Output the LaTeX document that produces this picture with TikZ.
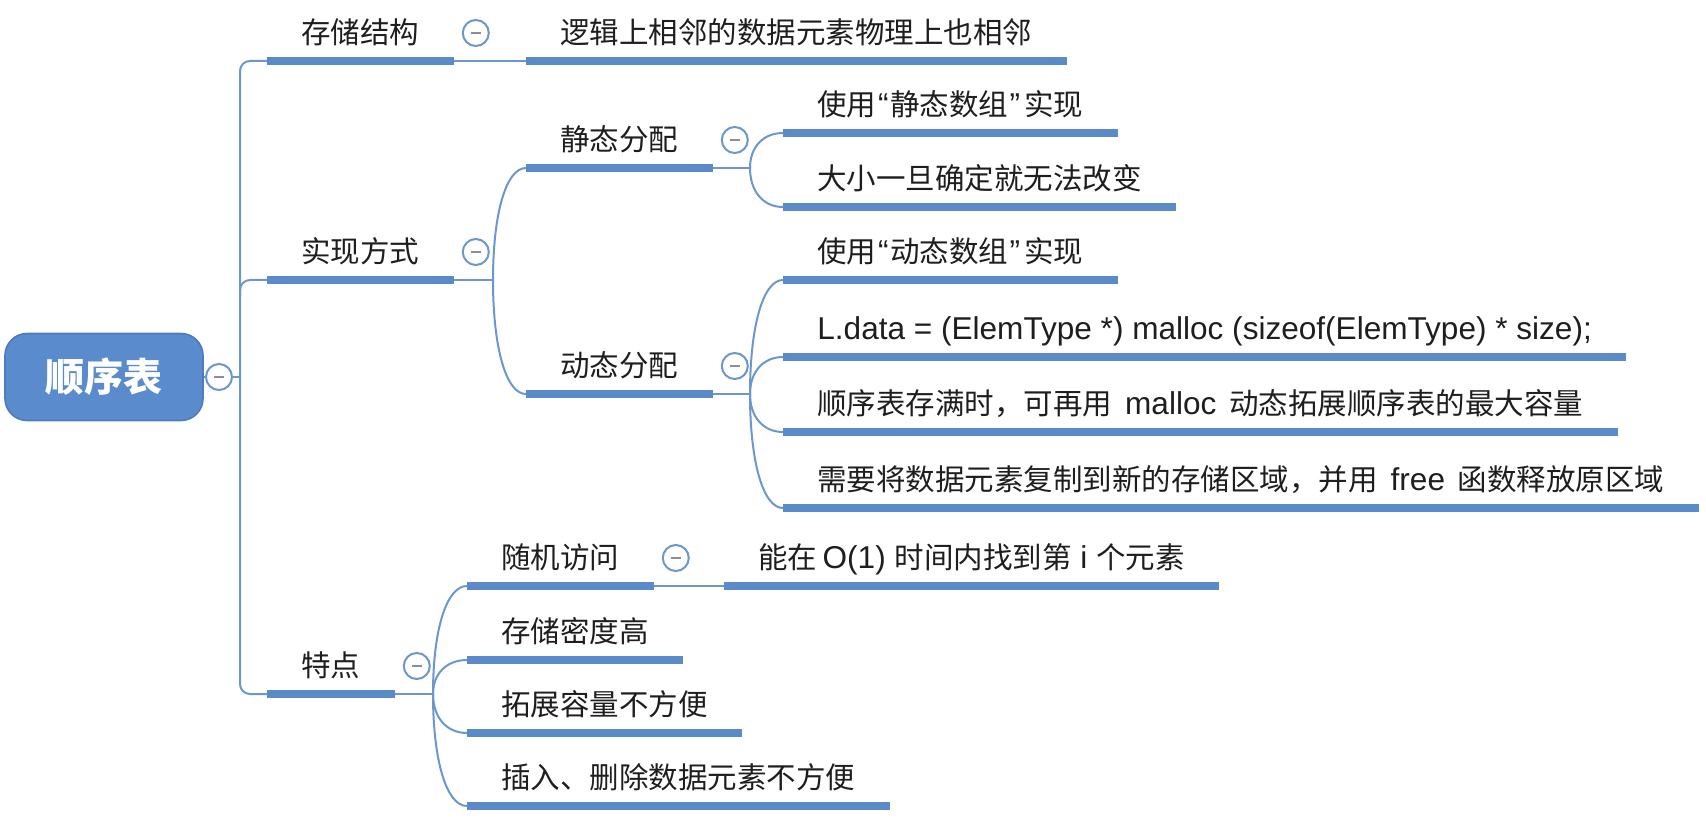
\documentclass[tikz,border=0pt]{standalone}
\usepackage{fontspec}
\setmainfont{Noto Sans CJK SC}
\newfontfamily\lat{Liberation Sans}[Scale=1.07]
\usetikzlibrary{calc}
\definecolor{mmblue}{HTML}{5B8AC9}
\definecolor{mmline}{HTML}{6B96CE}
\definecolor{rootfill}{HTML}{5A8CCD}
\definecolor{rootedge}{HTML}{4C7CBD}
\definecolor{txt}{HTML}{1E1E1E}
\definecolor{minuscol}{HTML}{8C8CA0}
\newcommand\mmcurve[2]{\draw[conn] (#1) .. controls ($(#1)!0.6!(#1|-#2)$) and ($(#2)!0.6!(#1|-#2)$) .. (#2);}
\newcommand\quoted[3]{\makebox[133pt][l]{#1{\lat\kern0.8pt“\kern0.8pt}#2{\lat\kern0.8pt”}\hfill #3}}
\begin{document}
\begin{tikzpicture}[x=0.5pt,y=-0.5pt,
  topic/.style={anchor=south west, inner xsep=17pt, inner ysep=5.5pt, text height=11pt, text depth=3pt, font=\fontsize{14.75pt}{16pt}\selectfont, text=txt},
  uline/.style={draw=mmblue, line width=3.6pt},
  conn/.style={draw=mmline, line width=1pt},
  fold/.style={circle, draw=mmline, line width=1pt, fill=white, minimum size=13pt, inner sep=0pt,
    path picture={\draw[minuscol, line width=1.1pt] ($(path picture bounding box.center)+(-5,0)$) -- ($(path picture bounding box.center)+(5,0)$);}},
  rootbox/.style={rectangle, rounded corners=11pt, fill=rootfill, draw=rootedge, line width=0.8pt, minimum width=99pt, minimum height=43.5pt, text=white, font=\fontsize{19.5pt}{22pt}\selectfont\bfseries}
]
\useasboundingbox (0,0) rectangle (1706,823);

% root
\node[rootbox] (root) at (104,377) {顺序表};
\node[fold] (f0) at (219,377) {};
\coordinate (trunk) at (240,377);

% level 1
\node[topic] (n1) at (267,61) {存储结构};
\node[topic] (n2) at (267,280) {实现方式};
\node[topic] (n3) at (267,694) {特点};

% level 2+
\node[topic] (n11) at (526,61) {逻辑上相邻的数据元素物理上也相邻};
\node[topic] (n21) at (526,168) {静态分配};
\node[topic] (n22) at (526,394) {动态分配};
\node[topic] (n211) at (783,133) {\quoted{使用}{静态数组}{实现}};
\node[topic] (n212) at (783,207) {大小一旦确定就无法改变};
\node[topic] (n221) at (783,280) {\quoted{使用}{动态数组}{实现}};
\node[topic] (n222) at (783,357) {\lat L.data = (ElemType *) malloc (sizeof(ElemType) * size);};
\node[topic] (n223) at (783,432) {顺序表存满时，可再用{\lat\hspace{2pt}\ malloc \hspace{2pt}}动态拓展顺序表的最大容量};
\node[topic] (n224) at (783,508) {需要将数据元素复制到新的存储区域，并用{\lat\hspace{2pt}\ free \hspace{2pt}}函数释放原区域};
\node[topic] (n31) at (467,586) {随机访问};
\node[topic] (n32) at (467,660) {存储密度高};
\node[topic] (n33) at (467,733) {拓展容量不方便};
\node[topic] (n34) at (467,806) {插入、删除数据元素不方便};
\node[topic] (n311) at (724,586) {能在{\lat\,O(1) }时间内找到第{\lat\ i }个元素};

% underlines
\foreach \n in {n1,n2,n3,n11,n21,n22,n211,n212,n221,n222,n223,n224,n31,n32,n33,n34,n311}
  \draw[uline] (\n.south west) -- (\n.south east);

% connectors
\draw[conn] (root.east) -- (f0.west);
\draw[conn] (f0.east) -- (trunk);
\draw[conn, rounded corners=5pt] (n1.south west) -| (trunk) |- (n3.south west);
\draw[conn, rounded corners=5pt] ($(trunk |- n2.south west)+(0,16)$) |- (n2.south west);
\draw[conn] (n1.south east) -- (n11.south west);

\coordinate (b2) at (493,280);
\draw[conn] (n2.south east) -- (b2);
\mmcurve{b2}{n21.south west}
\mmcurve{b2}{n22.south west}

\coordinate (b21) at (750,168);
\draw[conn] (n21.south east) -- (b21);
\mmcurve{b21}{n211.south west}
\mmcurve{b21}{n212.south west}

\coordinate (b22) at (750,394);
\draw[conn] (n22.south east) -- (b22);
\mmcurve{b22}{n221.south west}
\mmcurve{b22}{n222.south west}
\mmcurve{b22}{n223.south west}
\mmcurve{b22}{n224.south west}

\coordinate (b3) at (433,694);
\draw[conn] (n3.south east) -- (b3);
\mmcurve{b3}{n31.south west}
\mmcurve{b3}{n32.south west}
\mmcurve{b3}{n33.south west}
\mmcurve{b3}{n34.south west}

\draw[conn] (n31.south east) -- (n311.south west);

% fold markers
\node[fold] (f1) at ($(n1.south east)+(22,-28)$) {};
\node[fold] (f2) at ($(n2.south east)+(22,-28)$) {};
\node[fold] (f3) at ($(n3.south east)+(22,-28)$) {};
\node[fold] (f21) at ($(n21.south east)+(22,-28)$) {};
\node[fold] (f22) at ($(n22.south east)+(22,-28)$) {};
\node[fold] (f31) at ($(n31.south east)+(22,-28)$) {};
\end{tikzpicture}
\end{document}
